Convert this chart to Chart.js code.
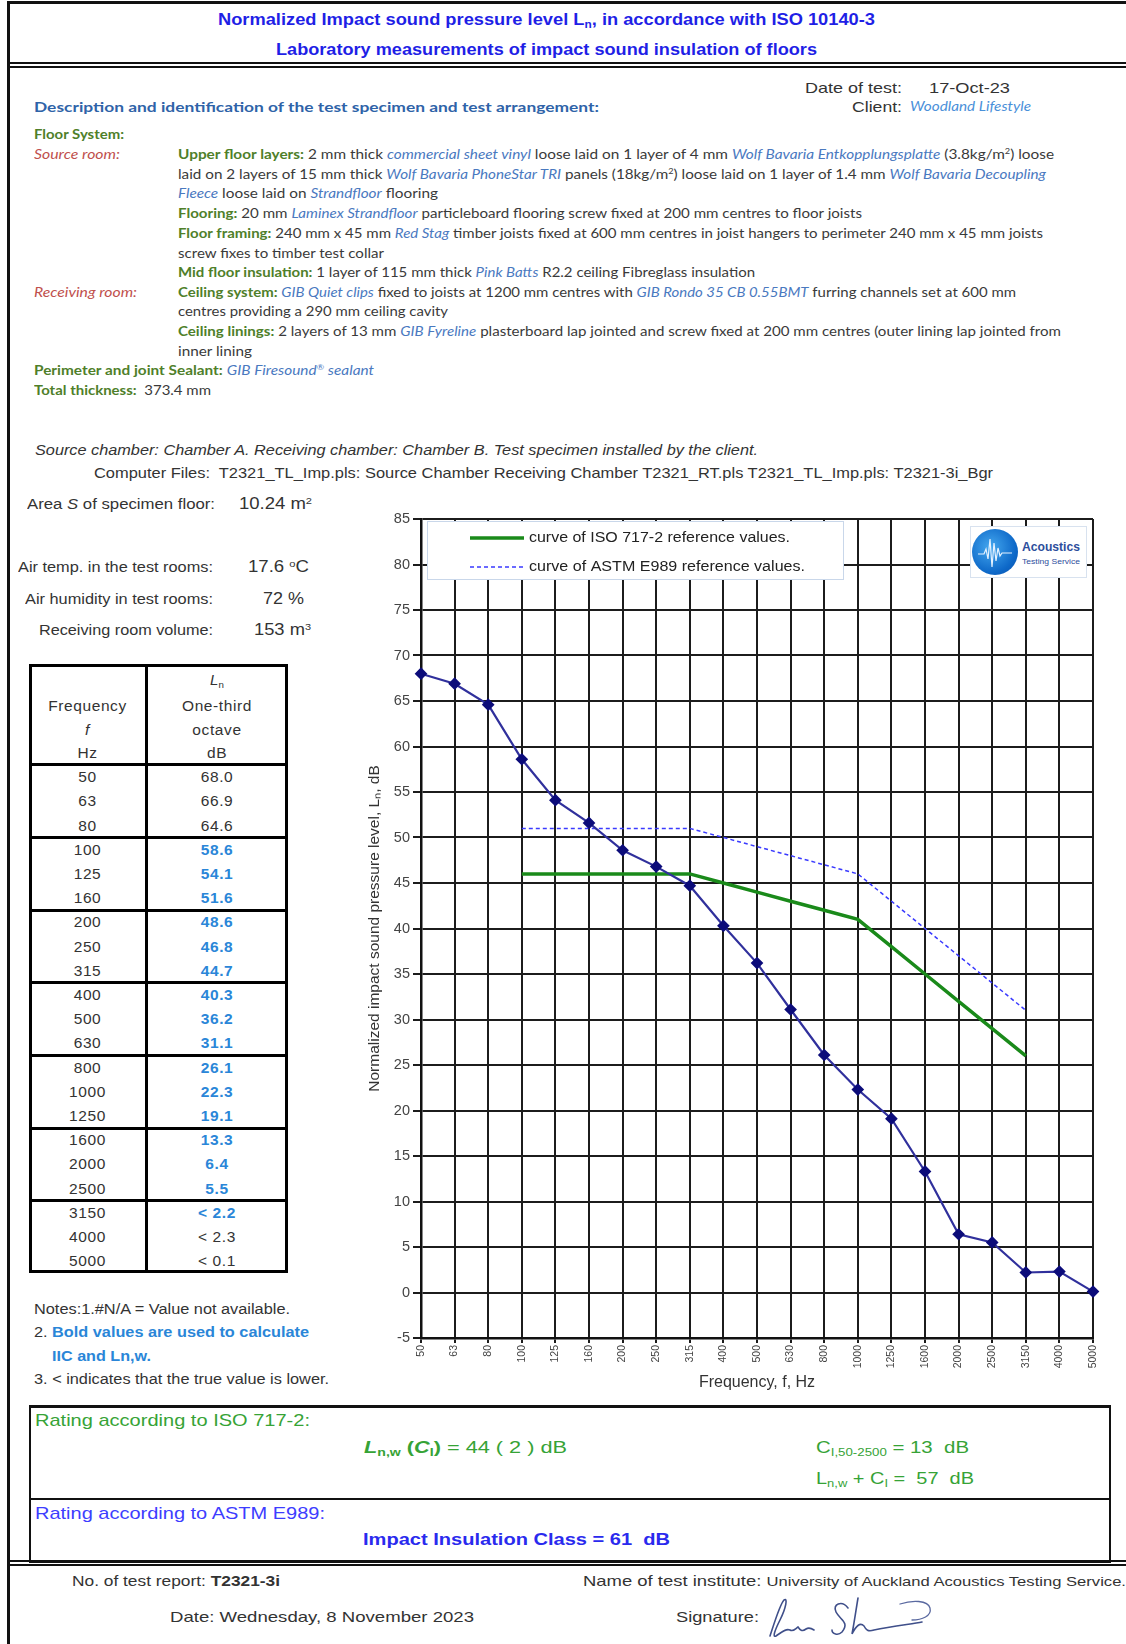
<!DOCTYPE html>
<html>
<head>
<meta charset="utf-8">
<title>Normalized Impact sound pressure level – T2321-3i</title>
<script src="https://cdn.jsdelivr.net/npm/chart.js@4.4.0/dist/chart.umd.min.js"></script>
<style>
  body { margin: 0; background: #fff; }
  #page { position: relative; width: 1126px; height: 1644px; overflow: hidden; background: #fff;
          font-family: "Liberation Sans", Arial, sans-serif; color: #333; }
  .t { position: absolute; white-space: nowrap; line-height: 1; transform-origin: 0 50%; }
  .cal { font-family: Lato, "Open Sans", sans-serif; color: #3a3a3a; }
  .g { color: #4f7f2a; font-weight: 700; }
  .bl { color: #4a79bf; font-style: italic; }
  .rd { color: #c0504d; font-style: italic; }
  .sb { font-size: 0.65em; position: relative; top: 0.3em; }
  .sp { font-size: 0.6em; position: relative; top: -0.55em; }
  .ln { position: absolute; background: #111; }
  .cell { position: absolute; line-height: 1; font-size: 15.5px; letter-spacing: 0.6px; transform: translate(-50%, -50%); white-space: nowrap; }
  .bold { color: #2a86d8; font-weight: 700; }
  #chartBox { position: absolute; left: 360px; top: 505px; width: 750px; height: 895px; }
</style>
</head>
<body>
<div id="page">

  <!-- frame lines -->
  <div class="ln" style="left:7px;top:1px;width:1119px;height:3px;"></div>
  <div class="ln" style="left:7px;top:1px;width:3px;height:1643px;"></div>
  <div class="ln" style="left:7px;top:62px;width:1119px;height:2px;"></div>
  <div class="ln" style="left:7px;top:66px;width:1119px;height:2px;"></div>

  <!-- header -->
  <div class="t" data-w="657" style="left:218px;top:12px;font-size:16px;font-weight:bold;color:#1f1fe6;">Normalized Impact sound pressure level L<span class="sb">n</span>, in accordance with ISO 10140-3</div>
  <div class="t" data-w="541" style="left:276px;top:42px;font-size:16px;font-weight:bold;color:#1f1fe6;">Laboratory measurements of impact sound insulation of floors</div>

  <div class="t" data-w="97" style="left:805px;top:80px;font-size:15px;">Date of test:</div>
  <div class="t" data-w="81" style="left:929px;top:80px;font-size:15px;">17-Oct-23</div>
  <div class="t" data-w="50" style="left:852px;top:99px;font-size:15px;">Client:</div>
  <div class="t cal" data-w="121" style="left:910px;top:101px;font-size:12.5px;color:#4a90d9;font-style:italic;">Woodland Lifestyle</div>

  <div class="t cal" data-w="565" style="left:34px;top:100px;font-size:14px;font-weight:700;color:#2f63a8;">Description and identification of the test specimen and test arrangement:</div>

  <!-- specimen description -->
  <div class="t cal g" data-w="90" style="left:34px;top:127.5px;font-size:13px;">Floor System:</div>
  <div class="t cal rd" data-w="86" style="left:34px;top:147.5px;font-size:13px;">Source room:</div>
  <div class="t cal" data-w="876" style="left:178px;top:147.5px;font-size:13px;"><span class="g">Upper floor layers:</span> 2 mm thick <span class="bl">commercial sheet vinyl</span> loose laid on 1 layer of 4 mm <span class="bl">Wolf Bavaria Entkopplungsplatte</span> (3.8kg/m<span class="sp">2</span>) loose</div>
  <div class="t cal" data-w="868" style="left:178px;top:167.5px;font-size:13px;">laid on 2 layers of 15 mm thick <span class="bl">Wolf Bavaria PhoneStar TRI</span> panels (18kg/m<span class="sp">2</span>) loose laid on 1 layer of 1.4 mm <span class="bl">Wolf Bavaria Decoupling</span></div>
  <div class="t cal" data-w="260" style="left:178px;top:186.5px;font-size:13px;"><span class="bl">Fleece</span> loose laid on <span class="bl">Strandfloor</span> flooring</div>
  <div class="t cal" data-w="684" style="left:178px;top:206.5px;font-size:13px;"><span class="g">Flooring:</span> 20 mm <span class="bl">Laminex Strandfloor</span> particleboard flooring screw fixed at 200 mm centres to floor joists</div>
  <div class="t cal" data-w="865" style="left:178px;top:226.5px;font-size:13px;"><span class="g">Floor framing:</span> 240 mm x 45 mm <span class="bl">Red Stag</span> timber joists fixed at 600 mm centres in joist hangers to perimeter 240 mm x 45 mm joists</div>
  <div class="t cal" data-w="206" style="left:178px;top:246.5px;font-size:13px;">screw fixes to timber test collar</div>
  <div class="t cal" data-w="577" style="left:178px;top:265.5px;font-size:13px;"><span class="g">Mid floor insulation:</span> 1 layer of 115 mm thick <span class="bl">Pink Batts</span> R2.2 ceiling Fibreglass insulation</div>
  <div class="t cal rd" data-w="103" style="left:34px;top:285.5px;font-size:13px;">Receiving room:</div>
  <div class="t cal" data-w="838" style="left:178px;top:285.5px;font-size:13px;"><span class="g">Ceiling system:</span> <span class="bl">GIB Quiet clips</span> fixed to joists at 1200 mm centres with <span class="bl">GIB Rondo 35 CB 0.55BMT</span> furring channels set at 600 mm</div>
  <div class="t cal" data-w="270" style="left:178px;top:304.5px;font-size:13px;">centres providing a 290 mm ceiling cavity</div>
  <div class="t cal" data-w="883" style="left:178px;top:324.5px;font-size:13px;"><span class="g">Ceiling linings:</span> 2 layers of 13 mm <span class="bl">GIB Fyreline</span> plasterboard lap jointed and screw fixed at 200 mm centres (outer lining lap jointed from</div>
  <div class="t cal" data-w="74" style="left:178px;top:344.5px;font-size:13px;">inner lining</div>
  <div class="t cal" data-w="340" style="left:34px;top:363.5px;font-size:13px;"><span class="g">Perimeter and joint Sealant:</span> <span class="bl">GIB Firesound<span class="sp">®</span> sealant</span></div>
  <div class="t cal" data-w="177" style="left:34px;top:383.5px;font-size:13px;"><span class="g">Total thickness:</span>&nbsp; 373.4 mm</div>

  <!-- test conditions -->
  <div class="t" data-w="723" style="left:35px;top:443px;font-size:14px;font-style:italic;">Source chamber: Chamber A. Receiving chamber: Chamber B. Test specimen installed by the client.</div>
  <div class="t" data-w="899" style="left:94px;top:466px;font-size:14.5px;">Computer Files:&nbsp; T2321_TL_Imp.pls: Source Chamber Receiving Chamber T2321_RT.pls T2321_TL_Imp.pls: T2321-3i_Bgr</div>

  <div class="t" data-w="188" style="left:27px;top:497px;font-size:14px;">Area <i>S</i> of specimen floor:</div>
  <div class="t" data-w="73" style="left:239px;top:496px;font-size:16px;">10.24 m<span class="sp">2</span></div>
  <div class="t" data-w="195" style="left:18px;top:560px;font-size:14px;">Air temp. in the test rooms:</div>
  <div class="t" data-w="61" style="left:248px;top:559px;font-size:16px;">17.6 <span class="sp">o</span>C</div>
  <div class="t" data-w="188" style="left:25px;top:592px;font-size:14px;">Air humidity in test rooms:</div>
  <div class="t" data-w="41" style="left:263px;top:591px;font-size:16px;">72 %</div>
  <div class="t" data-w="174" style="left:39px;top:623px;font-size:14px;">Receiving room volume:</div>
  <div class="t" data-w="57" style="left:254px;top:622px;font-size:16px;">153 m<span class="sp">3</span></div>

  <!-- result table (filled by script) -->
  <div id="lnTable"></div>

  <!-- notes -->
  <div class="t" data-w="256" style="left:34px;top:1301.5px;font-size:14px;">Notes:1.#N/A = Value not available.</div>
  <div class="t" data-w="275" style="left:34px;top:1324.5px;font-size:14px;">2. <span class="bold">Bold values are used to calculate</span></div>
  <div class="t bold" data-w="99" style="left:52px;top:1348.5px;font-size:14px;">IIC and Ln,w.</div>
  <div class="t" data-w="295" style="left:34px;top:1371.5px;font-size:14px;">3. &lt; indicates that the true value is lower.</div>

  <!-- chart -->
  <div id="chartBox"><canvas id="lnChart" width="750" height="895"></canvas></div>

  <!-- logo in plot -->
  <div style="position:absolute;left:970px;top:526px;width:117px;height:52px;border:1px solid #d8e2ef;background:#fff;box-sizing:border-box;">
    <div style="position:absolute;left:1px;top:2px;width:46px;height:46px;border-radius:50%;background:radial-gradient(circle at 40% 40%, #45a8ef, #0d68c8 65%, #0a4ea6);"></div>
    <svg style="position:absolute;left:1px;top:2px;" width="46" height="46" viewBox="0 0 46 46">
      <path d="M6,25 L12,25 L14,20 L16,30 L18,10 L20,38 L22,14 L24,32 L26,19 L28,27 L30,24 L40,24" fill="none" stroke="#e6f2ff" stroke-width="1.2"/>
    </svg>
    <div class="t" data-w="58" style="left:51px;top:13px;font-size:13px;font-weight:bold;color:#2d4e9c;">Acoustics</div>
    <div class="t" data-w="58" style="left:51px;top:31px;font-size:7px;color:#2d4e9c;">Testing Service</div>
  </div>

  <!-- rating box -->
  <div style="position:absolute;left:29px;top:1405px;width:1082px;height:158px;border:2px solid #111;border-top-width:3px;box-sizing:border-box;"></div>
  <div class="ln" style="left:29px;top:1498px;width:1082px;height:2px;"></div>
  <div class="t" data-w="275" style="left:35px;top:1411.5px;font-size:17px;color:#36a336;">Rating according to ISO 717-2:</div>
  <div class="t" data-w="203" style="left:364px;top:1438.5px;font-size:17px;color:#36a336;"><b><i>L</i><span class="sb">n,w</span> (<i>C</i><span class="sb">I</span>)</b> = 44 ( 2 ) dB</div>
  <div class="t" data-w="153" style="left:816px;top:1438.5px;font-size:17px;color:#36a336;">C<span class="sb">I,50-2500</span> = 13&nbsp; dB</div>
  <div class="t" data-w="158" style="left:816px;top:1469.5px;font-size:17px;color:#36a336;">L<span class="sb">n,w</span> + C<span class="sb">I</span> =&nbsp; 57&nbsp; dB</div>
  <div class="t" data-w="290" style="left:35px;top:1504.5px;font-size:17px;color:#3d3dff;">Rating according to ASTM E989:</div>
  <div class="t" data-w="307" style="left:363px;top:1530.5px;font-size:17px;font-weight:bold;color:#2a2aee;">Impact Insulation Class = 61&nbsp; dB</div>

  <!-- footer -->
  <div class="ln" style="left:7px;top:1560px;width:1119px;height:2px;"></div>
  <div class="ln" style="left:7px;top:1564px;width:1119px;height:2px;"></div>
  <div class="t" data-w="208" style="left:72px;top:1572.5px;font-size:15px;">No. of test report: <b>T2321-3i</b></div>
  <div class="t" data-w="543" style="left:583px;top:1572.5px;font-size:15px;">Name of test institute: <span style="font-size:13.5px;">University of Auckland Acoustics Testing Service.</span></div>
  <div class="t" data-w="304" style="left:170px;top:1608.5px;font-size:15px;">Date: Wednesday, 8 November 2023</div>
  <div class="t" data-w="83" style="left:676px;top:1608.5px;font-size:15px;">Signature:</div>
  <svg style="position:absolute;left:762px;top:1594px;" width="180" height="46" viewBox="0 0 180 46">
    <path d="M8,42 C12,30 18,10 22,6 C26,3 24,14 18,26 C13,36 10,44 14,42 C20,38 24,34 28,36 C31,38 33,35 36,33 C38,36 40,38 44,35 C47,33 49,34 52,36"
          fill="none" stroke="#3f4f8a" stroke-width="1.6" stroke-linecap="round"/>
    <path d="M86,14 C80,6 70,10 74,18 C78,26 88,28 80,38 C76,42 70,40 70,36 M96,4 C94,16 92,30 90,40 C94,32 98,28 102,32 C104,36 106,38 112,36 C130,32 150,30 160,28"
          fill="none" stroke="#3f4f8a" stroke-width="1.6" stroke-linecap="round"/>
    <path d="M138,10 C150,6 166,6 168,14 C170,22 160,26 150,26" fill="none" stroke="#5a69a0" stroke-width="1.3" stroke-linecap="round"/>
  </svg>
</div>

<script>
const frequencyLabels = ['50', '63', '80', '100', '125', '160', '200', '250', '315', '400', '500',
                         '630', '800', '1000', '1250', '1600', '2000', '2500', '3150', '4000', '5000'];
const measuredLn = [68.0, 66.9, 64.6, 58.6, 54.1, 51.6, 48.6, 46.8, 44.7, 40.3, 36.2,
                    31.1, 26.1, 22.3, 19.1, 13.3, 6.4, 5.5, 2.2, 2.3, 0.1];
// ISO 717-2 reference curve shifted to Ln,w = 44 (100 - 3150 Hz)
const isoReference = [null, null, null, 46, 46, 46, 46, 46, 46, 45, 44,
                      43, 42, 41, 38, 35, 32, 29, 26, null, null];
// ASTM E989 reference contour for IIC = 61 (100 - 3150 Hz)
const astmReference = [null, null, null, 51, 51, 51, 51, 51, 51, 50, 49,
                       48, 47, 46, 43, 40, 37, 34, 31, null, null];
// table flags: bold = used for rating, below = "<" (limited by background)
const usedForRating = [false, false, false, true, true, true, true, true, true, true, true,
                       true, true, true, true, true, true, true, true, false, false];
const belowBackground = [false, false, false, false, false, false, false, false, false, false, false,
                         false, false, false, false, false, false, false, true, true, true];
const yAxisMin = -5;
const yAxisMax = 85;
const yAxisStep = 5;

// --- table on the left ---
function buildTable() {
    const page = document.getElementById('page');
    const left = 29, right = 288, split = 146, top = 664, headBottom = 765, rowH = 24.2;
    const bottom = headBottom + rowH * frequencyLabels.length;
    const add = (html) => page.insertAdjacentHTML('beforeend', html);

    add(`<div style="position:absolute;left:${left}px;top:${top}px;width:${right - left}px;height:${bottom - top}px;border:3px solid #000;box-sizing:border-box;"></div>`);
    add(`<div class="ln" style="left:${split - 1}px;top:${top}px;width:3px;height:${bottom - top}px;background:#000;"></div>`);
    add(`<div class="ln" style="left:${left}px;top:${headBottom - 2}px;width:${right - left}px;height:3px;background:#000;"></div>`);
    for (let k = 3; k < frequencyLabels.length; k += 3) {
        add(`<div class="ln" style="left:${left}px;top:${headBottom + k * rowH - 1.5}px;width:${right - left}px;height:3px;background:#000;"></div>`);
    }

    const cxL = (left + split) / 2, cxR = (split + right) / 2;
    // header
    add(`<div class="cell" style="left:${cxR}px;top:679px;font-size:15px;letter-spacing:0;"><i>L</i><span class="sb">n</span></div>`);
    [['Frequency', 'One-third', 706], ['<i>f</i>', 'octave', 730], ['Hz', 'dB', 753]].forEach(([a, b, y]) => {
        add(`<div class="cell" style="left:${cxL}px;top:${y}px;">${a}</div>`);
        add(`<div class="cell" style="left:${cxR}px;top:${y}px;">${b}</div>`);
    });

    frequencyLabels.forEach((f, i) => {
        const y = headBottom + (i + 0.5) * rowH;
        const txt = (belowBackground[i] ? '&lt; ' : '') + measuredLn[i].toFixed(1);
        add(`<div class="cell" style="left:${cxL}px;top:${y}px;">${f}</div>`);
        add(`<div class="cell${usedForRating[i] ? ' bold' : ''}" style="left:${cxR}px;top:${y}px;">${txt}</div>`);
    });
}

// --- legend drawn inside the plot, top-left ---
const legendTextWidths = [261, 276];
const legendInPlot = {
    id: 'legendInPlot',
    afterDatasetsDraw(chart) {
        const ctx = chart.ctx;
        const area = chart.chartArea;
        const x0 = area.left + 6, y0 = area.top + 2, w = 417, h = 59;
        ctx.save();
        ctx.fillStyle = '#fff';
        ctx.fillRect(x0, y0, w, h);
        ctx.strokeStyle = '#c9d7ea';
        ctx.lineWidth = 1;
        ctx.strokeRect(x0 + 0.5, y0 + 0.5, w - 1, h - 1);
        chart.data.datasets.slice(1).forEach((ds, i) => {
            const y = y0 + 17 + i * 29;
            ctx.beginPath();
            ctx.setLineDash(ds.borderDash || []);
            ctx.strokeStyle = ds.borderColor;
            ctx.lineWidth = ds.borderWidth;
            ctx.moveTo(x0 + 43, y);
            ctx.lineTo(x0 + 97, y);
            ctx.stroke();
            ctx.setLineDash([]);
            ctx.fillStyle = '#222';
            ctx.font = '14px "Liberation Sans", Arial, sans-serif';
            ctx.textBaseline = 'middle';
            const sx = legendTextWidths[i] / ctx.measureText(ds.label).width;
            ctx.save();
            ctx.translate(x0 + 102, y);
            ctx.scale(sx, 1);
            ctx.fillText(ds.label, 0, 0);
            ctx.restore();
        });
        ctx.restore();
    }
};

const gridColor = '#1c1c1c';

function initChart() {
    const ctx = document.getElementById('lnChart');
    new Chart(ctx, {
        type: 'line',
        data: {
            labels: frequencyLabels,
            datasets: [
                {
                    label: 'Ln',
                    data: measuredLn,
                    borderColor: '#30309c',
                    borderWidth: 2.2,
                    pointStyle: 'rectRot',
                    pointRadius: 4.8,
                    pointBackgroundColor: '#0c0c7a',
                    pointBorderColor: '#0c0c7a',
                    tension: 0,
                    clip: false
                },
                {
                    label: 'curve of ISO 717-2 reference values.',
                    data: isoReference,
                    borderColor: '#1a8a1a',
                    borderWidth: 3.5,
                    pointRadius: 0,
                    tension: 0
                },
                {
                    label: 'curve of ASTM E989 reference values.',
                    data: astmReference,
                    borderColor: '#3a3aff',
                    borderWidth: 1.5,
                    borderDash: [4, 3],
                    pointRadius: 0,
                    tension: 0
                }
            ]
        },
        options: {
            responsive: false,
            devicePixelRatio: 1,
            animation: false,
            layout: { padding: { top: 14, right: 17, left: 0, bottom: 0 } },
            plugins: { legend: { display: false }, tooltip: { enabled: false } },
            scales: {
                y: {
                    min: yAxisMin,
                    max: yAxisMax,
                    ticks: { stepSize: yAxisStep, color: '#444', font: { family: '"Liberation Sans", Arial', size: 14.5 }, padding: 3 },
                    grid: { color: gridColor, lineWidth: 2, tickLength: 8, tickColor: gridColor },
                    border: { color: '#111', width: 2.5 },
                    title: {
                        display: true,
                        text: 'Normalized impact sound pressure level, Lₙ, dB',
                        color: '#333',
                        font: { family: '"Liberation Sans", Arial', size: 15.5 },
                        padding: { top: 5, bottom: 0 }
                    },
                    afterFit(scale) { scale.width = 61; }
                },
                x: {
                    offset: false,
                    ticks: { autoSkip: false, minRotation: 90, maxRotation: 90, color: '#444', font: { family: '"Liberation Sans", Arial', size: 10.5 }, padding: 2 },
                    grid: { offset: false, color: gridColor, lineWidth: 2, tickLength: 5, tickColor: gridColor },
                    border: { color: '#111', width: 2.5 },
                    title: {
                        display: true,
                        text: 'Frequency, f, Hz',
                        color: '#333',
                        font: { family: '"Liberation Sans", Arial', size: 16 },
                        padding: { top: 0, bottom: 8 }
                    },
                    afterFit(scale) { scale.height = 62; }
                }
            }
        },
        plugins: [legendInPlot]
    });
}

// squeeze / stretch text lines to the widths measured on the report
function fitTexts() {
    document.querySelectorAll('[data-w]').forEach(el => {
        const target = +el.dataset.w;
        const actual = el.getBoundingClientRect().width;
        if (actual > 0) el.style.transform = `scaleX(${(target / actual).toFixed(4)})`;
    });
}

buildTable();
initChart();
fitTexts();
</script>
</body>
</html>
